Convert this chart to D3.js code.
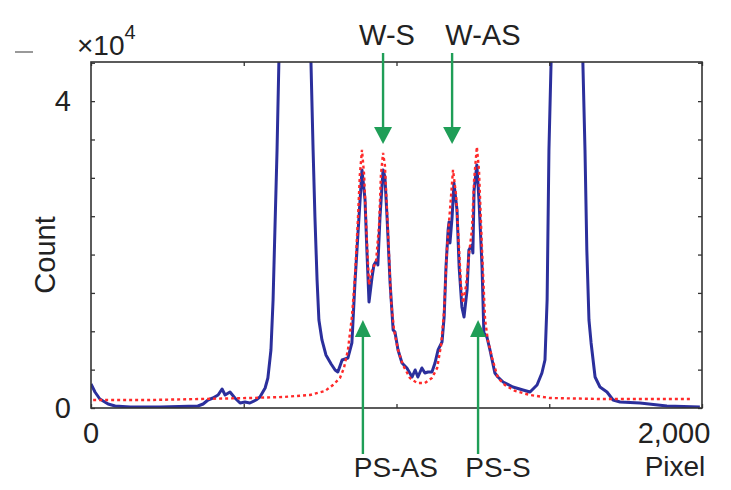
<!DOCTYPE html>
<html>
<head>
<meta charset="utf-8">
<script src="https://cdn.jsdelivr.net/npm/d3@7"></script>
<style>
  body { margin: 0; background: #fff; }
  text { font-family: "Liberation Sans", Arial, sans-serif; fill: #222; }
</style>
</head>
<body>
<svg id="chart"></svg>
<script>
"use strict";

// ==========================
// data
// ==========================
var measuredX = [0, 13, 29, 56, 79, 128, 226, 350, 367, 383, 399, 416, 429, 439, 455, 471, 488, 504, 520, 540,
  553, 570, 579, 589, 596, 602, 609, 615, 625, 668, 710, 720, 727, 733, 740, 746, 756, 769, 786, 799,
  808, 822, 841, 854, 864, 874, 887, 897, 903, 910, 920, 926, 936, 939, 946, 956, 962, 969, 979, 989,
  995, 1005, 1018, 1034, 1051, 1061, 1070, 1083, 1093, 1103, 1116, 1126, 1136, 1149, 1156, 1162, 1169, 1172, 1175, 1182,
  1188, 1198, 1205, 1214, 1221, 1231, 1237, 1247, 1250, 1254, 1263, 1270, 1280, 1286, 1296, 1306, 1322, 1332, 1349, 1381,
  1414, 1437, 1460, 1476, 1486, 1493, 1499, 1506, 1535, 1558, 1584, 1610, 1617, 1623, 1630, 1637, 1650, 1666, 1689, 1709,
  1732, 1797, 1885, 1993];
var measuredY = [3130, 2086, 1174, 522, 261, 130, 130, 261, 522, 1043, 1304, 1695, 2477, 1695, 2086, 1304, 652, 782, 652, 1043,
  1434, 2608, 3912, 7563, 14082, 23210, 33640, 45110, 60000, 75000, 60000, 45110, 33640, 24900, 16690, 11470, 8866, 6911, 5737, 4955,
  4694, 6259, 6520, 8475, 16300, 22820, 31030, 27120, 20600, 13820, 17080, 18650, 19300, 18650, 24900, 31030, 30120, 24900, 16300, 10170,
  9910, 7563, 5867, 5215, 4042, 4955, 4042, 5215, 4563, 4694, 4694, 5867, 7563, 8606, 11865, 18385, 23210, 24250, 21510, 24900,
  29340, 25820, 18385, 13170, 11865, 15390, 20600, 21250, 20210, 28420, 31680, 27120, 18385, 9780, 9258, 7563, 4563, 4042, 3390, 2738,
  2347, 2086, 2999, 4563, 6259, 14082, 33640, 45110, 60000, 75000, 60000, 45110, 33640, 20600, 11470, 8475, 4042, 2738, 2086, 1043,
  782, 652, 261, 130];

var fitX = [7, 193, 357, 520, 628, 717, 766, 792, 815, 828, 841, 854, 864, 874, 880, 887, 894, 903, 910, 920,
  933, 943, 949, 956, 962, 972, 982, 992, 1005, 1021, 1044, 1067, 1093, 1116, 1133, 1146, 1156, 1165, 1175, 1185,
  1195, 1205, 1211, 1218, 1228, 1237, 1247, 1254, 1263, 1270, 1280, 1290, 1299, 1313, 1332, 1355, 1388, 1437, 1502, 1666,
  1970];
var fitY = [1043, 1043, 1174, 1304, 1434, 1695, 2217, 2999, 3912, 5215, 7563, 11865, 17080, 24900, 30380, 33640, 30380, 21900, 16040, 18000,
  19040, 23860, 30380, 33250, 31680, 23210, 14080, 10170, 7563, 5607, 3912, 3260, 3260, 3912, 5215, 8214, 12780, 20600, 25820, 31030,
  27770, 20600, 16040, 13690, 16040, 19950, 23210, 29730, 34030, 31030, 20600, 11470, 8866, 6520, 3912, 2999, 2217, 1695, 1304, 1174,
  1174];

var xTickValues = [0, 500, 1000, 1500, 2000];
var xTickLabels = ["0", "2,000"];
var yTickValues = [0, 5000, 10000, 15000, 20000, 25000, 30000, 35000, 40000, 45000];
var yTickLabels = ["0", "4"];

// peak annotations (pixel index of the arrow and of the label centre)
var peakLabels = ["W-S", "W-AS", "PS-AS", "PS-S"];
var peakArrowX = [956, 1182, 890, 1267];
var peakLabelX = [969, 1283, 998, 1332];
var peakFromTop = [true, true, false, false];

// ==========================
// chart
// ==========================
var width = 731, height = 490;
var mLeft = 91, mRight = 702, mTop = 62, mBottom = 408;
var green = "#1f9e57";

var svg = d3.select("#chart").attr("width", width).attr("height", height);

var x = d3.scaleLinear().domain([0, 2000]).range([mLeft, mRight]);
var y = d3.scaleLinear().domain([0, 45100]).range([mBottom, mTop]);

svg.append("defs").append("clipPath").attr("id", "plotClip")
  .append("rect").attr("x", mLeft).attr("y", mTop).attr("width", mRight - mLeft).attr("height", mBottom - mTop);

var measured = measuredX.map(function (d, i) { return [d, measuredY[i]]; });
var fit = fitX.map(function (d, i) { return [d, fitY[i]]; });

var line = d3.line().x(function (d) { return x(d[0]); }).y(function (d) { return y(d[1]); });

var plot = svg.append("g").attr("clip-path", "url(#plotClip)");

plot.append("path").datum(measured).attr("d", line)
  .attr("fill", "none").attr("stroke", "#2b2f9c").attr("stroke-width", 3)
  .attr("stroke-linejoin", "round");

plot.append("path").datum(fit).attr("d", line)
  .attr("fill", "none").attr("stroke", "#ff2a2a").attr("stroke-width", 2.4)
  .attr("stroke-dasharray", "3,3");

// ticks inside the box, all four sides
function tickAxis(axis, tr) {
  var g = svg.append("g").attr("transform", tr).call(axis);
  g.select(".domain").remove();
  g.selectAll(".tick line").attr("stroke", "#333").attr("stroke-width", 1.3);
  g.selectAll(".tick text").remove();
}
tickAxis(d3.axisBottom(x).tickValues(xTickValues).tickSize(-4), "translate(0," + mBottom + ")");
tickAxis(d3.axisTop(x).tickValues(xTickValues).tickSize(-4), "translate(0," + mTop + ")");
tickAxis(d3.axisLeft(y).tickValues(yTickValues).tickSize(-4), "translate(" + mLeft + ",0)");
tickAxis(d3.axisRight(y).tickValues(yTickValues).tickSize(-4), "translate(" + mRight + ",0)");

svg.append("rect").attr("x", mLeft).attr("y", mTop).attr("width", mRight - mLeft).attr("height", mBottom - mTop)
  .attr("fill", "none").attr("stroke", "#333").attr("stroke-width", 1.6);

// tick labels
svg.selectAll(".ylab").data([0, 40000]).enter().append("text")
  .attr("x", 71).attr("y", function (d) { return y(d); }).attr("dy", "0.35em")
  .attr("text-anchor", "end").style("font-size", "29px")
  .text(function (d, i) { return yTickLabels[i]; });

svg.selectAll(".xlab").data([0, 2000]).enter().append("text")
  .attr("x", function (d) { return x(d) + (d ? -28 : 0); }).attr("y", 443)
  .attr("text-anchor", "middle").style("font-size", "29px")
  .text(function (d, i) { return xTickLabels[i]; });

svg.append("text").attr("x", 675).attr("y", 476).attr("text-anchor", "middle")
  .style("font-size", "28px").text("Pixel");

svg.append("text").attr("transform", "translate(55,255) rotate(-90)").attr("text-anchor", "middle")
  .style("font-size", "29px").text("Count");

var expo = svg.append("text").attr("x", 77).attr("y", 55).style("font-size", "28px");
expo.append("tspan").text("\u00d710");
expo.append("tspan").attr("dy", -16).style("font-size", "20px").text("4");

svg.append("line").attr("x1", 15).attr("x2", 33).attr("y1", 52).attr("y2", 52)
  .attr("stroke", "#777").attr("stroke-width", 1.5);

// peak arrows
peakLabels.forEach(function (label, i) {
  var ax = x(peakArrowX[i]);
  var g = svg.append("g");
  if (peakFromTop[i]) {
    g.append("line").attr("x1", ax).attr("x2", ax).attr("y1", 53).attr("y2", 130)
      .attr("stroke", green).attr("stroke-width", 2.4);
    g.append("path").attr("d", "M" + (ax - 9) + ",127L" + (ax + 9) + ",127L" + ax + ",144Z").attr("fill", green);
    svg.append("text").attr("x", x(peakLabelX[i])).attr("y", 45).attr("text-anchor", "middle")
      .style("font-size", "29px").text(label);
  } else {
    g.append("line").attr("x1", ax).attr("x2", ax).attr("y1", 333).attr("y2", 454)
      .attr("stroke", green).attr("stroke-width", 2.4);
    g.append("path").attr("d", "M" + (ax - 8) + ",337L" + (ax + 8) + ",337L" + ax + ",320Z").attr("fill", green);
    svg.append("text").attr("x", x(peakLabelX[i])).attr("y", 477).attr("text-anchor", "middle")
      .style("font-size", "28px").text(label);
  }
});
</script>
</body>
</html>
